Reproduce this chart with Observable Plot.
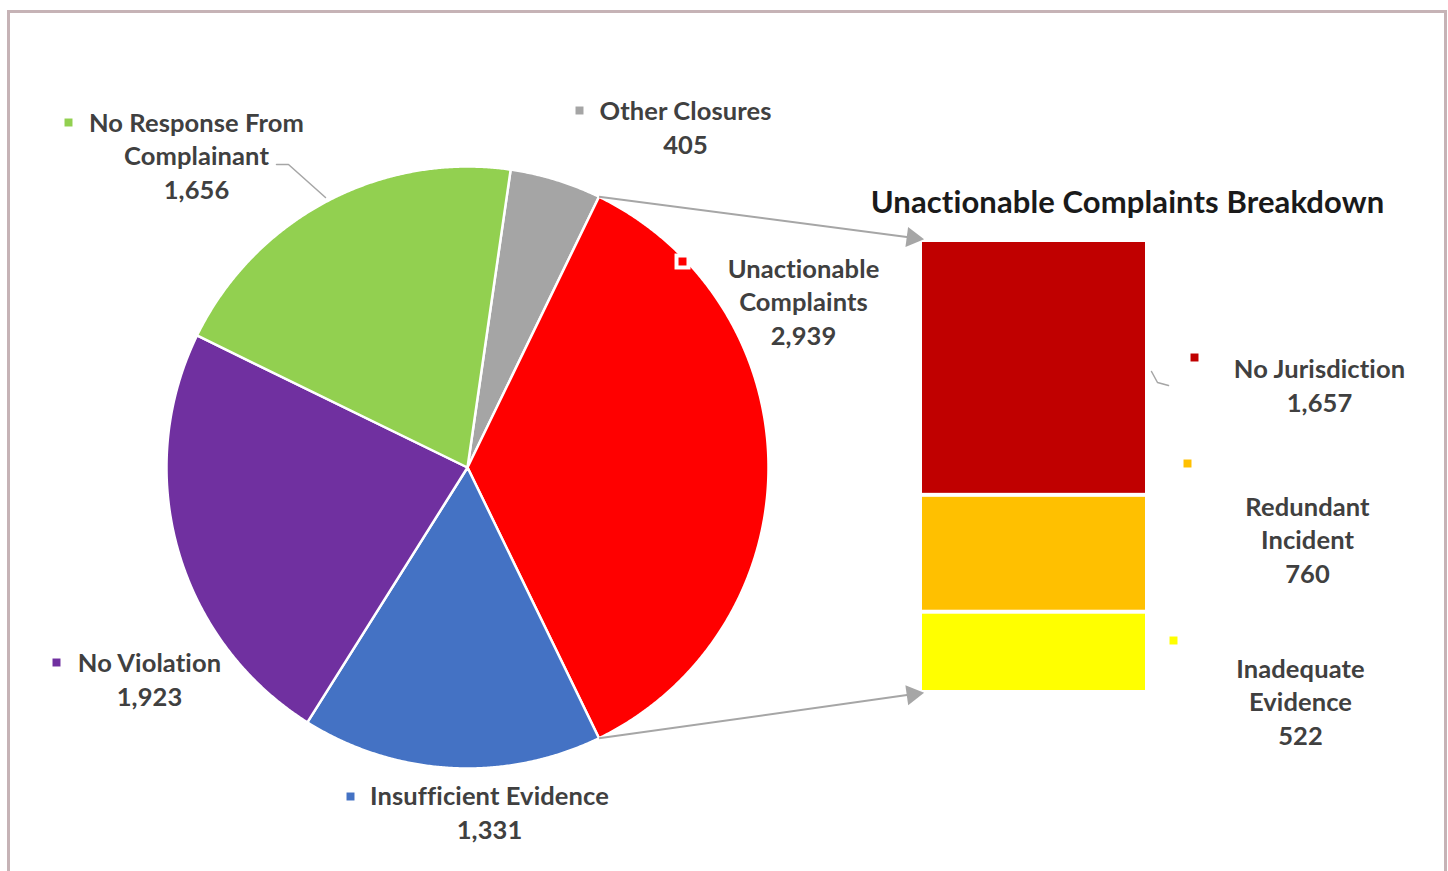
<!DOCTYPE html>
<html><head><meta charset="utf-8">
<script src="https://cdn.jsdelivr.net/npm/d3@7"></script>
<script src="https://cdn.jsdelivr.net/npm/@observablehq/plot@0.6"></script>
<style>
html,body{margin:0;padding:0;background:#fff;width:1448px;height:871px;overflow:hidden}
#frame{position:absolute;left:7px;top:10px;width:1434px;height:900px;border:3px solid #c6b3b6;border-bottom:none}
#bar,#pie{position:absolute;left:0;top:0}
svg text, svg tspan{font-variant-ligatures:none !important;font-feature-settings:"liga" 0,"clig" 0,"dlig" 0 !important;letter-spacing:0.1px}
</style></head><body>
<div id="frame"></div>
<div id="bar"></div>
<div id="pie"></div>
<script>
// ---- data ----
const categories = ["Other Closures", "Unactionable Complaints", "Insufficient Evidence", "No Violation", "No Response From Complainant"];
const counts = [405, 2939, 1331, 1923, 1656];
const labelNames = ["Other Closures", "Unactionable\nComplaints", "Insufficient Evidence", "No Violation", "No Response From\nComplainant"];
const subCategories = ["No Jurisdiction", "Redundant Incident", "Inadequate Evidence"];
const subCounts = [1657, 760, 522];
const subLabelNames = ["No Jurisdiction", "Redundant\nIncident", "Inadequate\nEvidence"];
const breakdownTitle = "Unactionable Complaints Breakdown";

// ---- style / layout ----
const sliceColors = ["#a5a5a5", "#ff0000", "#4472c4", "#7030a0", "#92d050"];
const subColors = ["#c00000", "#ffc000", "#ffff00"];
const W = 1448, H = 871;
const cx = 467, cy = 467, R = 301;
const focus = 1; // slice expanded into the bar
const labelPos = [ // [text x, text block center y, key x, key y]
  [685, 126, 579, 110],
  [803, 300, 682, 261],
  [489, 811, 350, 796],
  [149, 678, 56, 662],
  [196, 154, 68, 122]
];
const subLabelPos = [
  [1319, 384, 1194, 357],
  [1307, 538, 1187, 463],
  [1300, 700, 1173, 640]
];
const barLeft = 922, barRight = 1145, barTop = 240, barBottom = 692;
const fmt = d3.format(",");
const font = "Lato, 'Open Sans', sans-serif";
const textColor = "#404040";
const arrowColor = "#a6a6a6";

// ---- pie geometry from counts ----
const total = d3.sum(counts);
const before = d3.sum(counts.slice(0, focus));
let acc = Math.PI / 2 - (before + counts[focus] / 2) / total * 2 * Math.PI;
const slices = counts.map((v, i) => {
  const a0 = acc, a1 = acc + v / total * 2 * Math.PI;
  acc = a1;
  return {i, a0, a1};
});
const pt = a => ({x: cx + R * Math.sin(a), y: cy - R * Math.cos(a)});
function slicePoints(s) {
  const n = Math.max(2, Math.ceil((s.a1 - s.a0) / 0.005));
  const pts = [{x: cx, y: cy}];
  for (let k = 0; k <= n; k++) pts.push(pt(s.a0 + (s.a1 - s.a0) * k / n));
  pts.push({x: cx, y: cy});
  return pts;
}

// labels
const labels = categories.map((c, i) => ({
  text: labelNames[i] + "\n" + fmt(counts[i]),
  x: labelPos[i][0], y: labelPos[i][1], kx: labelPos[i][2], ky: labelPos[i][3], color: sliceColors[i]
}));
const subLabels = subCategories.map((c, i) => ({
  text: subLabelNames[i] + "\n" + fmt(subCounts[i]),
  x: subLabelPos[i][0], y: subLabelPos[i][1], kx: subLabelPos[i][2], ky: subLabelPos[i][3], color: subColors[i]
}));

// arrows from focus slice edges to bar corners
const arrows = [
  {s: pt(slices[focus].a0), e: {x: barLeft - 4, y: barTop - 2}},
  {s: pt(slices[focus].a1), e: {x: barLeft - 4, y: barBottom + 1}}
].map(a => {
  const dx = a.e.x - a.s.x, dy = a.e.y - a.s.y, L = Math.hypot(dx, dy);
  const ux = dx / L, uy = dy / L;
  return {x1: a.s.x, y1: a.s.y, x2: a.e.x - ux * 8, y2: a.e.y - uy * 8,
          hx: a.e.x - ux * 6, hy: a.e.y - uy * 6, rot: Math.atan2(dx, -dy) * 180 / Math.PI};
});

const leaders = [
  [{x: 276, y: 164}, {x: 288, y: 164}, {x: 325, y: 197}],
  [{x: 1151, y: 371}, {x: 1157, y: 382}, {x: 1168, y: 385}]
];

// ---- bar plot ----
const barData = subCategories.map((name, i) => ({name, value: subCounts[i]}));
const bar = Plot.plot({
  width: W, height: H,
  marginLeft: barLeft, marginRight: W - barRight, marginTop: barTop, marginBottom: H - barBottom,
  x: {axis: null},
  y: {axis: null, domain: [0, d3.sum(subCounts)]},
  color: {domain: subCategories, range: subColors},
  style: {background: "transparent", overflow: "visible"},
  marks: [
    Plot.barY(barData, {y: "value", fill: "name", reverse: true, insetTop: 2, insetBottom: 2})
  ]
});
document.getElementById("bar").appendChild(bar);

// ---- pie plot (pixel-unit scales) ----
const pie = Plot.plot({
  width: W, height: H, margin: 0,
  x: {domain: [0, W], range: [0, W], axis: null},
  y: {domain: [0, H], range: [0, H], axis: null},
  style: {background: "transparent", overflow: "visible", fontFamily: font},
  marks: [
    ...slices.map(s => Plot.line(slicePoints(s), {x: "x", y: "y", fill: sliceColors[s.i], stroke: "white", strokeWidth: 2.5, strokeLinejoin: "round"})),
    Plot.link(arrows, {x1: "x1", y1: "y1", x2: "x2", y2: "y2", stroke: arrowColor, strokeWidth: 2}),
    Plot.dot(arrows, {x: "hx", y: "hy", symbol: "triangle", r: 7.5, rotate: "rot", fill: arrowColor, stroke: "none"}),
    ...leaders.map(l => Plot.line(l, {x: "x", y: "y", stroke: arrowColor, strokeWidth: 1.5})),
    Plot.dot([labels[focus]], {x: "kx", y: "ky", symbol: "square", r: 9, fill: "white", stroke: "none"}),
    Plot.dot(labels.concat(subLabels), {x: "kx", y: "ky", symbol: "square", r: 4.5, fill: d => d.color, stroke: "none"}),
    Plot.text(labels.concat(subLabels), {x: "x", y: "y", text: "text", fontSize: 25.5, fontWeight: "bold", fill: textColor, lineHeight: 1.32, textAnchor: "middle"}),
    Plot.text([breakdownTitle], {x: () => 1127, y: () => 203, text: d => d, fontSize: 31, fontWeight: "bold", fill: "#1a1a1a"})
  ]
});
document.getElementById("pie").appendChild(pie);
</script>
</body></html>
